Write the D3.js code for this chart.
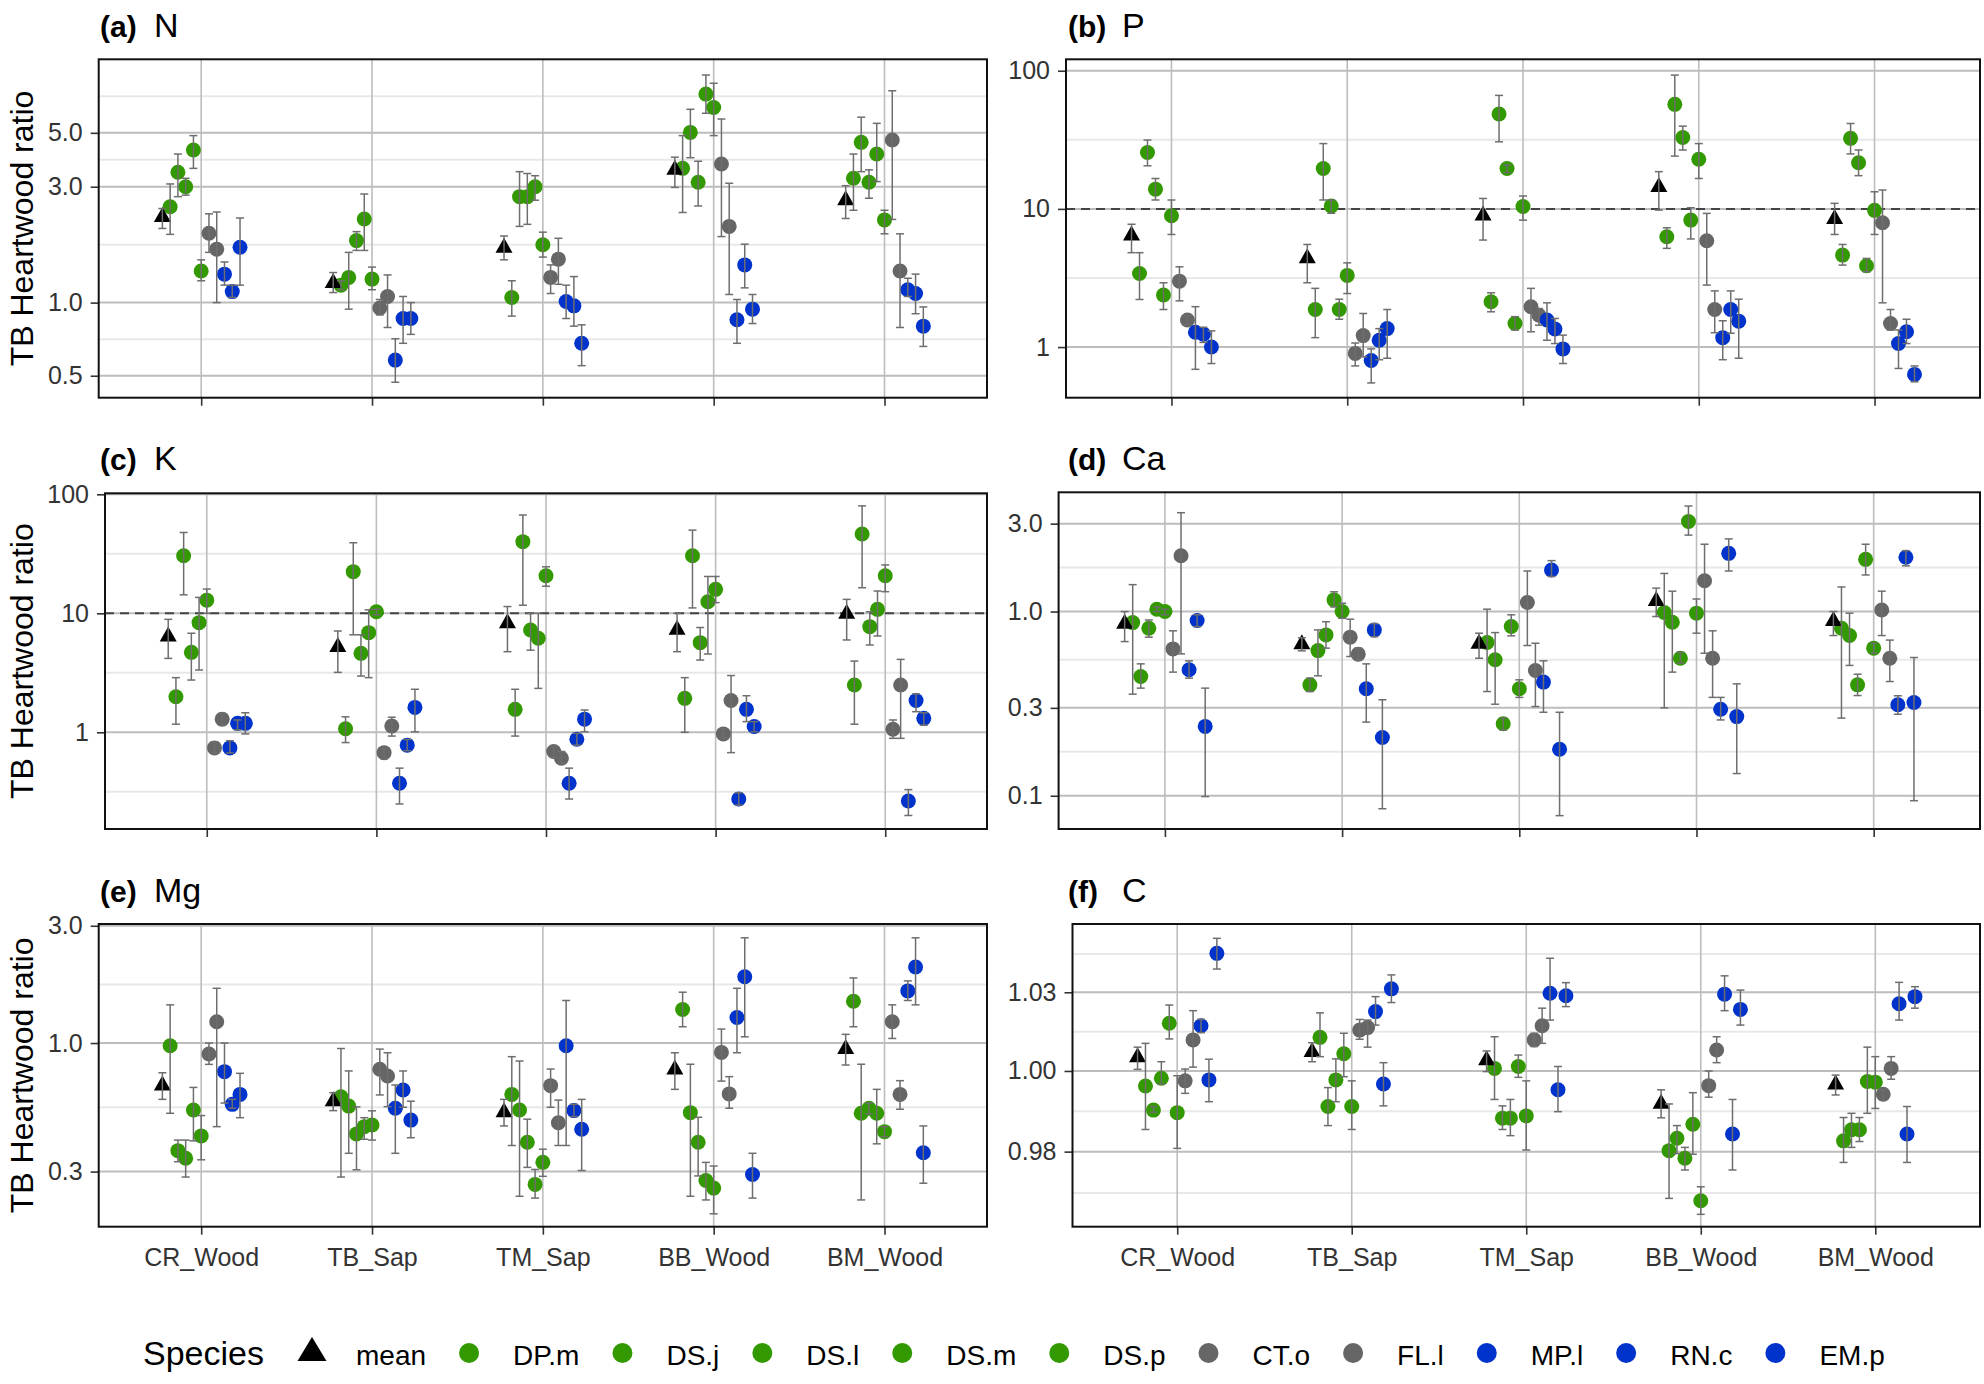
<!DOCTYPE html>
<html>
<head>
<meta charset="utf-8">
<script src="https://cdn.jsdelivr.net/npm/d3@7"></script>
<style>
  body { margin: 0; background: #fff; }
  svg { display: block; font-family: "Liberation Sans", Arial, sans-serif; }
</style>
</head>
<body>
<svg id="chart" width="1984" height="1384"></svg>
<script>
"use strict";

// === Categories and species ===
const categories = ["CR_Wood", "TB_Sap", "TM_Sap", "BB_Wood", "BM_Wood"];
const species = ["mean", "DP.m", "DS.j", "DS.l", "DS.m", "DS.p", "CT.o", "FL.l", "MP.l", "RN.c", "EM.p"];
const greenSpecies = ["DP.m", "DS.j", "DS.l", "DS.m", "DS.p"];
const greySpecies = ["CT.o", "FL.l"];
const blueSpecies = ["MP.l", "RN.c", "EM.p"];

// === (a) N  — one row per species, one column per category ===
const nVal = [[2.26,1.21,1.69,3.54,2.65],[2.48,1.18,1.05,3.57,3.25],[3.44,1.27,2.73,5.02,4.57],[3.00,1.80,2.73,3.13,3.13],[4.25,2.21,3.00,7.22,4.09],[1.35,1.25,1.73,6.36,2.19],[1.93,0.95,1.27,3.72,4.67],[1.66,1.06,1.51,2.06,1.35],[1.31,0.58,1.01,0.85,1.13],[1.11,0.86,0.97,1.43,1.09],[1.69,0.86,0.68,0.94,0.80]];
const nLo  = [[2.02,1.10,1.50,2.98,2.22],[1.91,1.13,0.88,2.35,2.40],[2.73,0.94,2.06,3.95,3.46],[2.77,1.64,2.10,2.50,2.69],[3.57,1.64,2.64,6.02,3.15],[1.23,1.13,1.54,4.87,1.92],[1.61,0.89,1.09,1.87,2.20],[1.00,0.79,1.19,1.08,0.79],[1.18,0.47,0.86,0.68,1.06],[1.05,0.68,0.80,1.15,0.90],[1.18,0.74,0.55,0.82,0.66]];
const nHi  = [[2.44,1.33,1.88,3.97,3.03],[3.08,1.23,1.23,4.87,4.09],[4.09,1.61,3.46,6.25,5.80],[3.25,1.96,3.40,3.82,3.52],[4.87,2.80,3.33,8.65,5.47],[1.50,1.40,1.95,8.00,2.40],[2.32,1.03,1.43,5.70,7.45],[2.36,1.30,1.84,3.10,1.92],[1.47,0.71,1.18,1.03,1.26],[1.18,1.06,1.28,1.74,1.31],[2.23,1.00,0.81,1.08,0.96]];
const nLimits = [0.406, 10.04];
const nTicks = [0.5, 1, 3, 5];
const nTickLabels = ["0.5", "1.0", "3.0", "5.0"];
const nMinor = [0.7071, 1.732, 3.873, 7.071];

// === (b) P ===
const pVal = [[6.47,4.43,9.02,14.5,8.53],[3.41,1.87,2.13,6.29,4.63],[25.6,19.6,48.6,57.1,32.4],[13.9,10.5,19.6,32.9,21.6],[2.38,1.87,1.48,8.30,3.88],[8.92,3.30,10.4,22.9,9.76],[3.00,0.90,1.96,5.88,7.94],[1.57,1.21,1.70,1.87,1.48],[1.28,0.80,1.57,1.17,1.06],[1.24,1.12,1.35,1.87,1.29],[1.00,1.36,0.97,1.54,0.634]];
const pLo  = [[4.82,2.92,5.95,9.8,6.53],[2.21,1.17,1.80,5.18,3.92],[20.5,11.6,30.6,24.1,25.0],[11.6,9.3,18.3,26.7,17.4],[1.87,1.59,1.33,6.06,3.51],[6.53,2.44,8.29,16.6,6.53],[2.16,0.73,1.29,2.81,2.09],[1.45,0.85,1.44,1.27,1.33],[0.69,0.55,1.12,0.81,0.70],[1.08,0.81,1.06,1.26,1.06],[0.76,0.83,0.76,0.83,0.56]];
const pHi  = [[7.74,5.53,11.9,18.6,10.97],[4.82,2.66,2.47,7.30,5.53],[31.5,29.7,66.3,93,41.5],[16.6,11.6,20.8,39.7,26.7],[2.92,2.22,1.66,10.2,4.38],[11.6,4.07,12.4,29.7,13.3],[3.81,1.07,2.66,9.28,13.7],[1.70,1.75,1.90,2.55,1.87],[1.96,0.97,2.09,1.55,1.33],[1.39,1.36,1.61,2.55,1.59],[1.31,1.87,1.22,2.22,0.73]];
const pLimits = [0.43, 121];
const pTicks = [1, 10, 100];
const pTickLabels = ["1", "10", "100"];
const pMinor = [3.162, 31.62];

// === (c) K ===
const kVal = [[6.45,5.25,8.35,7.34,10.0],[1.99,1.07,1.56,1.93,2.50],[30.5,22.4,40.0,30.5,46.4],[4.70,4.61,7.24,5.67,7.73],[8.35,6.88,6.17,12.5,10.8],[12.9,10.3,20.7,15.9,20.7],[0.74,0.675,0.69,0.97,1.06],[1.29,1.13,0.605,1.85,2.50],[0.74,0.373,0.373,0.275,0.265],[1.19,0.78,0.874,1.56,1.85],[1.19,1.62,1.29,1.12,1.31]];
const kLo  = [[4.18,3.19,4.76,4.76,5.97],[1.17,0.82,0.93,1.00,1.17],[14.3,6.6,11.7,11.1,16.4],[2.75,2.97,4.9,4.05,5.42],[3.34,2.88,2.34,4.55,6.45],[10.0,9.7,16.9,12.3,15.2],[0.67,0.60,0.62,0.89,0.89],[1.15,0.93,0.55,0.675,0.89],[0.67,0.25,0.275,0.245,0.20],[1.05,0.70,0.78,1.23,1.49],[0.97,1.01,1.01,1.01,1.15]];
const kHi  = [[8.9,7.1,11.4,10.0,13.1],[2.88,1.35,2.30,2.88,3.97],[47.8,39.2,67,50,80],[6.8,6.6,10.0,7.6,10.3],[13.6,10.7,10.0,20.4,15.4],[16.0,10.8,24.6,20.4,25.5],[0.83,0.73,0.76,1.07,1.27],[1.44,1.34,0.69,3.0,4.1],[0.85,0.50,0.50,0.31,0.33],[1.27,0.87,0.98,2.03,2.10],[1.46,2.30,1.54,1.23,1.46]];
const kLimits = [0.154, 102];
const kTicks = [1, 10, 100];
const kTickLabels = ["1", "10", "100"];
const kMinor = [0.3162, 3.162, 31.62];

// === (d) Ca ===
const caVal = [[0.864,0.668,0.673,1.147,0.894],[0.871,0.40,0.679,0.988,0.812],[0.444,0.614,0.547,0.875,0.741],[0.812,0.747,0.246,0.558,0.40],[1.03,1.157,0.829,3.08,1.92],[1.0,1.0,0.381,0.98,0.633],[0.627,0.726,1.12,1.47,1.02],[2.01,0.587,0.479,0.558,0.558],[0.483,0.381,0.414,0.295,0.312],[0.894,0.795,1.68,2.07,1.97],[0.238,0.207,0.179,0.269,0.321]];
const caLo  = [[0.687,0.612,0.558,0.94,0.741],[0.356,0.368,0.368,0.30,0.264],[0.384,0.448,0.314,0.469,0.51],[0.726,0.633,0.228,0.525,0.35],[1.0,1.06,0.738,2.6,1.58],[0.96,0.92,0.342,0.763,0.594],[0.469,0.57,0.654,0.594,0.741],[0.589,0.547,0.305,0.342,0.417],[0.435,0.251,0.284,0.258,0.277],[0.829,0.73,1.55,1.66,1.77],[0.099,0.085,0.078,0.132,0.094]];
const caHi  = [[1.0,0.72,0.763,1.34,1.0],[1.40,0.435,1.03,1.61,1.36],[0.52,0.795,0.769,1.29,0.98],[0.90,0.88,0.264,0.60,0.457],[1.06,1.28,0.96,3.74,2.32],[1.03,1.11,0.426,1.17,0.673],[0.786,0.909,1.66,2.32,1.29],[3.44,0.633,0.673,0.786,0.70],[0.54,0.52,0.54,0.342,0.349],[0.96,0.86,1.89,2.48,2.14],[0.384,0.332,0.284,0.405,0.563]];
const caLimits = [0.066, 4.44];
const caTicks = [0.1, 0.3, 1, 3];
const caTickLabels = ["0.1", "0.3", "1.0", "3.0"];
const caMinor = [0.1732, 0.5477, 1.732];

// === (e) Mg ===
const mgVal = [[0.675,0.583,0.526,0.784,0.951],[0.975,0.605,0.618,1.37,1.48],[0.365,0.554,0.534,0.521,0.518],[0.34,0.427,0.395,0.395,0.543],[0.534,0.457,0.266,0.276,0.518],[0.419,0.464,0.327,0.257,0.436],[0.902,0.782,0.671,0.916,1.22],[1.22,0.734,0.474,0.621,0.618],[0.765,0.543,0.975,1.27,1.63],[0.563,0.644,0.531,1.86,2.04],[0.618,0.486,0.446,0.292,0.358]];
const mgLo  = [[0.59,0.531,0.46,0.648,0.814],[0.518,0.285,0.383,1.165,1.165],[0.329,0.356,0.238,0.238,0.23],[0.285,0.305,0.312,0.288,0.515],[0.40,0.406,0.234,0.23,0.389],[0.335,0.403,0.287,0.202,0.416],[0.819,0.615,0.548,0.70,1.044],[0.457,0.551,0.383,0.543,0.538],[0.57,0.356,0.383,0.913,1.49],[0.543,0.548,0.502,1.06,1.43],[0.497,0.412,0.303,0.234,0.269]];
const mgHi  = [[0.757,0.628,0.59,0.913,1.085],[1.43,0.95,0.88,1.61,1.84],[0.403,0.77,0.845,0.82,0.82],[0.403,0.55,0.49,0.499,0.57],[0.66,0.497,0.306,0.327,0.648],[0.507,0.53,0.37,0.316,0.457],[1.0,0.945,0.784,1.14,1.43],[1.67,0.913,0.586,0.73,0.703],[1.0,0.675,1.49,1.67,1.79],[0.59,0.77,0.563,2.68,2.68],[0.753,0.58,0.59,0.356,0.46]];
const mgLimits = [0.179, 3.05];
const mgTicks = [0.3, 1, 3];
const mgTickLabels = ["0.3", "1.0", "3.0"];
const mgMinor = [0.5477, 1.732];

// === (f) C ===
const cVal = [[1.0045,1.0061,1.0035,0.9899,0.9959],[0.9953,1.0106,1.0008,0.9753,0.9783],[0.9878,0.9889,0.9853,0.9791,0.9817],[0.9977,0.9972,0.9853,0.9730,0.9817],[1.0151,1.0054,1.0014,0.9834,0.9967],[0.9870,0.9889,0.9860,0.9601,0.9965],[0.9969,1.0129,1.0098,0.9954,0.9927],[1.0098,1.0137,1.0143,1.0066,1.0008],[1.0143,1.0188,1.0247,1.0244,1.0213],[0.9972,0.9959,0.9941,0.9804,0.9804],[1.0376,1.0261,1.0239,1.0195,1.0236]];
const cLo  = [[1.0005,1.0029,0.9998,0.9854,0.9925],[0.9818,1.0045,0.9911,0.9608,0.9717],[0.9871,0.9830,0.9818,0.9744,0.9763],[0.9959,0.9904,0.9799,0.9694,0.9781],[1.0101,0.9982,0.9980,0.9742,0.9868],[0.9760,0.9818,0.9755,0.9560,0.9883],[0.9930,1.0100,1.0077,0.9918,0.9909],[1.0012,1.0075,1.0087,1.0026,0.9974],[1.0121,1.0145,1.0161,1.0191,1.0161],[0.9904,0.9891,0.9873,0.9694,0.9717],[1.0325,1.0217,1.0204,1.0145,1.0199]];
const cHi  = [[1.0075,1.0089,1.0063,0.9941,0.9987],[1.0087,1.0184,1.0108,0.9897,0.9855],[0.9889,0.9948,0.9891,0.9830,0.9868],[1.0029,1.0038,0.9911,0.9763,0.9855],[1.0209,1.0119,1.0050,0.9932,1.0075],[0.9985,0.9969,0.9969,0.9643,1.0045],[1.0006,1.0163,1.0119,1.0000,0.9941],[1.0191,1.0161,1.0199,1.0108,1.0045],[1.0163,1.0236,1.0360,1.0303,1.0282],[1.0037,1.0026,1.0014,0.9911,0.9889],[1.0425,1.0306,1.0281,1.0257,1.0268]];
const cLimits = [0.9523, 1.0472];
const cTicks = [0.975, 1, 1.025];
const cTickLabels = ["0.98", "1.00", "1.03"];
const cMinor = [0.9624, 0.9874, 1.0124, 1.0374];

// === Panels (layout) ===
let panels = [
  { tag: "(a)", name: "N",  val: nVal,  lo: nLo,  hi: nHi,  limits: nLimits,  ticks: nTicks,  labels: nTickLabels,  minor: nMinor,  ref: null, box: [98.7, 59.3, 987, 397.7], col: 0, row: 0 },
  { tag: "(b)", name: "P",  val: pVal,  lo: pLo,  hi: pHi,  limits: pLimits,  ticks: pTicks,  labels: pTickLabels,  minor: pMinor,  ref: 10,   box: [1066, 59.3, 1980, 397.7], col: 1, row: 0 },
  { tag: "(c)", name: "K",  val: kVal,  lo: kLo,  hi: kHi,  limits: kLimits,  ticks: kTicks,  labels: kTickLabels,  minor: kMinor,  ref: 10,   box: [105, 493.3, 987, 829], col: 0, row: 1 },
  { tag: "(d)", name: "Ca", val: caVal, lo: caLo, hi: caHi, limits: caLimits, ticks: caTicks, labels: caTickLabels, minor: caMinor, ref: null, box: [1058.6, 492.3, 1980, 829], col: 1, row: 1 },
  { tag: "(e)", name: "Mg", val: mgVal, lo: mgLo, hi: mgHi, limits: mgLimits, ticks: mgTicks, labels: mgTickLabels, minor: mgMinor, ref: null, box: [98.7, 924, 987, 1226.7], col: 0, row: 2 },
  { tag: "(f)", name: "C",  val: cVal,  lo: cLo,  hi: cHi,  limits: cLimits,  ticks: cTicks,  labels: cTickLabels,  minor: cMinor,  ref: null, box: [1072.5, 924, 1980, 1226.7], col: 1, row: 2 }
];

let titleX = [100, 1068];
let titleY = [37, 470, 902];

function colorOf(s) {
  if (greenSpecies.includes(s)) return "#339900";
  if (greySpecies.includes(s)) return "#666666";
  if (blueSpecies.includes(s)) return "#0033cc";
  return "#000000";
}

let svg = d3.select("#chart");
svg.append("rect").attr("width", 1984).attr("height", 1384).attr("fill", "#fff");

// === Draw one panel ===
function drawPanel(p) {
  let [x0, y0, x1, y1] = p.box;
  let x = d3.scalePoint().domain(categories).range([x0, x1]).padding(0.6);
  let y = d3.scaleLog().domain(p.limits).range([y1, y0]);
  let g = svg.append("g");

  // grid
  g.selectAll(".minor").data(p.minor).join("line")
    .attr("x1", x0).attr("x2", x1)
    .attr("y1", d => y(d)).attr("y2", d => y(d))
    .attr("stroke", "#e8e8e8").attr("stroke-width", 2);
  g.selectAll(".major").data(p.ticks).join("line")
    .attr("x1", x0).attr("x2", x1)
    .attr("y1", d => y(d)).attr("y2", d => y(d))
    .attr("stroke", "#bdbdbd").attr("stroke-width", 2);
  g.selectAll(".vgrid").data(categories).join("line")
    .attr("x1", d => x(d)).attr("x2", d => x(d))
    .attr("y1", y0).attr("y2", y1)
    .attr("stroke", "#bdbdbd").attr("stroke-width", 1.6);

  if (p.ref) {
    g.append("line")
      .attr("x1", x0).attr("x2", x1)
      .attr("y1", y(p.ref)).attr("y2", y(p.ref))
      .attr("stroke", "#444").attr("stroke-width", 2)
      .attr("stroke-dasharray", "9,6");
  }

  // axes
  let yAxis = d3.axisLeft(y).tickValues(p.ticks)
    .tickFormat((d, i) => p.labels[i]).tickSize(8).tickPadding(8);
  let ya = g.append("g").attr("transform", `translate(${x0},0)`).call(yAxis);
  let xAxis = d3.axisBottom(x).tickSize(8).tickPadding(14);
  if (p.row < 2) xAxis.tickFormat("");
  let xa = g.append("g").attr("transform", `translate(0,${y1})`).call(xAxis);
  [ya, xa].forEach(a => {
    a.select(".domain").remove();
    a.selectAll(".tick line").attr("stroke", "#333").attr("stroke-width", 1.6);
    a.selectAll(".tick text")
      .attr("fill", "#333")
      .style("font-size", "25px")
      .style("font-family", '"Liberation Sans", Arial, sans-serif');
  });

  // dodge
  let step = x.step();
  let n = species.length;
  let dodge = i => (i - (n - 1) / 2) * step * 0.5 / n;

  let rows = [];
  species.forEach((s, i) => {
    categories.forEach((c, j) => {
      rows.push({ s: s, i: i, c: c, v: p.val[i][j], lo: p.lo[i][j], hi: p.hi[i][j] });
    });
  });

  let cx = d => x(d.c) + dodge(d.i);

  // points
  g.selectAll(".pt").data(rows.filter(d => d.s !== "mean")).join("circle")
    .attr("cx", cx).attr("cy", d => y(d.v)).attr("r", 7.5)
    .attr("fill", d => colorOf(d.s));
  g.selectAll(".tri").data(rows.filter(d => d.s === "mean")).join("path")
    .attr("d", "M0,-9.5L8.5,5.5L-8.5,5.5Z")
    .attr("transform", d => `translate(${cx(d)},${y(d.v)})`)
    .attr("fill", "#000");

  // error bars
  let eb = g.selectAll(".eb").data(rows).join("g").attr("fill", "none")
    .attr("stroke", "#6e6e6e").attr("stroke-width", 1.5);
  eb.append("line")
    .attr("x1", cx).attr("x2", cx)
    .attr("y1", d => y(d.hi)).attr("y2", d => y(d.lo));
  eb.append("line")
    .attr("x1", d => cx(d) - 4).attr("x2", d => cx(d) + 4)
    .attr("y1", d => y(d.hi)).attr("y2", d => y(d.hi));
  eb.append("line")
    .attr("x1", d => cx(d) - 4).attr("x2", d => cx(d) + 4)
    .attr("y1", d => y(d.lo)).attr("y2", d => y(d.lo));

  // border
  g.append("rect")
    .attr("x", x0).attr("y", y0).attr("width", x1 - x0).attr("height", y1 - y0)
    .attr("fill", "none").attr("stroke", "#111").attr("stroke-width", 2);

  // title
  let t = svg.append("text")
    .attr("x", titleX[p.col]).attr("y", titleY[p.row]).attr("fill", "#000");
  t.append("tspan").attr("font-weight", "bold").style("font-size", "30px").text(p.tag);
  t.append("tspan").attr("x", titleX[p.col] + 54).style("font-size", "34px").text(p.name);

  // y title on left column
  if (p.col === 0) {
    svg.append("text")
      .attr("transform", `translate(33,${(y0 + y1) / 2}) rotate(-90)`)
      .attr("text-anchor", "middle")
      .style("font-size", "32px")
      .attr("fill", "#000")
      .text("TB Heartwood ratio");
  }
}

panels.forEach(drawPanel);

// === Legend ===
let legend = svg.append("g");
let legY = 1353;
let baseY = 1365;
legend.append("text").attr("x", 143).attr("y", baseY)
  .style("font-size", "34px").attr("fill", "#000").text("Species");

let kx = 312;
species.forEach(s => {
  if (s === "mean") {
    legend.append("path")
      .attr("d", "M0,-14L14.5,10L-14.5,10Z")
      .attr("transform", `translate(${kx},${legY - 2})`)
      .attr("fill", "#000");
  } else {
    legend.append("circle").attr("cx", kx).attr("cy", legY).attr("r", 10)
      .attr("fill", colorOf(s));
  }
  let lbl = legend.append("text").attr("x", kx + 44).attr("y", baseY)
    .style("font-size", "28px").attr("fill", "#000").text(s);
  kx = kx + 44 + lbl.node().getComputedTextLength() + 43;
});
</script>
</body>
</html>
